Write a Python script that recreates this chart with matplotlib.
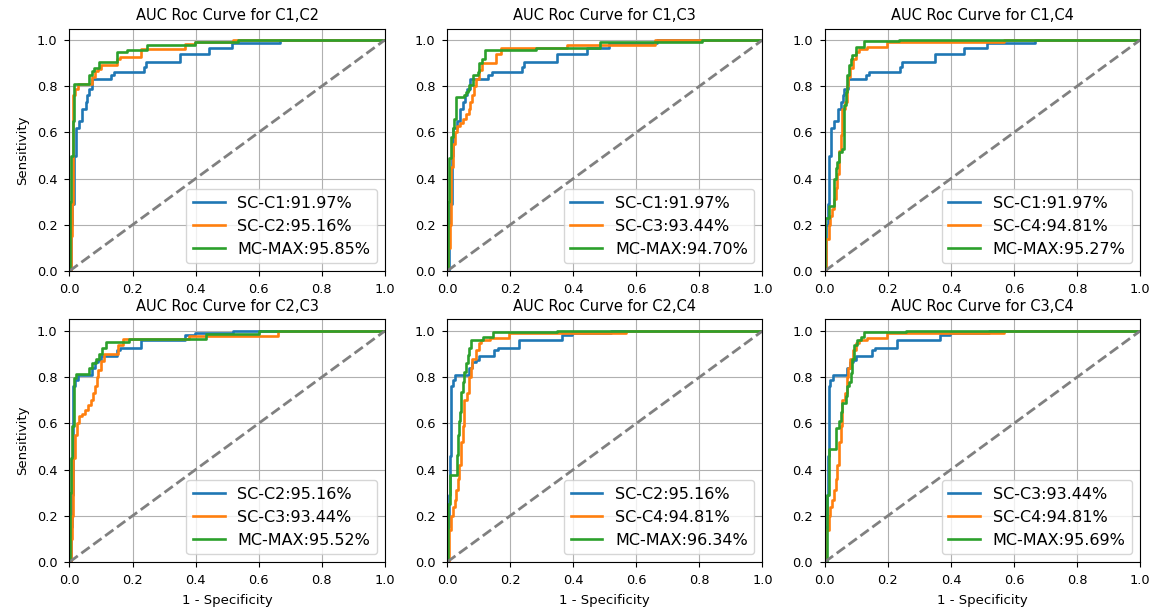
import matplotlib
matplotlib.use("Agg")
import matplotlib.pyplot as plt

# single classifier ROC curves (jump position, new level)
fpr_c1 = [0, 0.005, 0.009, 0.014, 0.02, 0.03, 0.041, 0.051, 0.057, 0.062, 0.072,
          0.131, 0.141, 0.237, 0.244, 0.35, 0.443, 0.515, 0.667, 1.0]
tpr_c1 = [0, 0.2, 0.29, 0.5, 0.62, 0.65, 0.70, 0.73, 0.76, 0.79, 0.83,
          0.848, 0.862, 0.885, 0.906, 0.939, 0.964, 0.988, 1.0, 1.0]

fpr_c2 = [0, 0.004, 0.007, 0.01, 0.012, 0.017, 0.026, 0.07, 0.08, 0.09, 0.1,
          0.15, 0.16, 0.228, 0.365, 0.397, 0.52, 1.0]
tpr_c2 = [0, 0.15, 0.29, 0.46, 0.76, 0.79, 0.81, 0.84, 0.866, 0.875, 0.89,
          0.918, 0.925, 0.96, 0.983, 0.99, 1.0, 1.0]

fpr_c3 = [0, 0.004, 0.008, 0.012, 0.017, 0.024, 0.03, 0.04, 0.05, 0.06, 0.068,
          0.074, 0.08, 0.086, 0.092, 0.1, 0.11, 0.155, 0.17, 0.38, 0.66, 1.0]
tpr_c3 = [0, 0.1, 0.2, 0.45, 0.55, 0.6, 0.63, 0.64, 0.66, 0.68, 0.70,
          0.73, 0.76, 0.80, 0.83, 0.87, 0.90, 0.94, 0.966, 0.978, 1.0, 1.0]

fpr_c4 = [0, 0.005, 0.012, 0.018, 0.024, 0.029, 0.034, 0.039, 0.045, 0.05, 0.055,
          0.063, 0.07, 0.075, 0.08, 0.09, 0.1, 0.108, 0.135, 0.197, 0.567, 1.0]
tpr_c4 = [0, 0.14, 0.2, 0.24, 0.27, 0.31, 0.36, 0.42, 0.52, 0.59, 0.7,
          0.73, 0.8, 0.84, 0.88, 0.92, 0.95, 0.96, 0.97, 0.99, 1.0, 1.0]

# MC-MAX curves per pair
fpr_mc12 = [0, 0.002, 0.006, 0.011, 0.014, 0.062, 0.072, 0.078, 0.094, 0.152,
            0.184, 0.247, 0.397, 0.533, 1.0]
tpr_mc12 = [0, 0.3, 0.5, 0.65, 0.81, 0.847, 0.865, 0.88, 0.905, 0.95,
            0.958, 0.977, 0.993, 1.0, 1.0]

fpr_mc13 = [0, 0.003, 0.007, 0.012, 0.017, 0.023, 0.028, 0.054, 0.06, 0.065,
            0.07, 0.081, 0.097, 0.102, 0.112, 0.121, 0.282, 0.486, 0.81, 1.0]
tpr_mc13 = [0, 0.3, 0.49, 0.58, 0.62, 0.66, 0.755, 0.762, 0.776, 0.785,
            0.805, 0.85, 0.863, 0.9, 0.92, 0.956, 0.966, 0.99, 1.0, 1.0]

fpr_mc14 = [0, 0.002, 0.013, 0.029, 0.034, 0.039, 0.045, 0.055, 0.061, 0.066,
            0.071, 0.077, 0.082, 0.087, 0.098, 0.124, 0.235, 1.0]
tpr_mc14 = [0, 0.23, 0.28, 0.4, 0.445, 0.474, 0.517, 0.53, 0.72, 0.776,
            0.848, 0.892, 0.92, 0.935, 0.97, 0.995, 1.0, 1.0]

fpr_mc23 = [0, 0.001, 0.004, 0.009, 0.014, 0.02, 0.062, 0.072, 0.083, 0.094,
            0.104, 0.115, 0.189, 0.432, 0.6, 1.0]
tpr_mc23 = [0, 0.3, 0.45, 0.59, 0.795, 0.812, 0.838, 0.86, 0.88, 0.9,
            0.925, 0.951, 0.965, 0.988, 1.0, 1.0]

fpr_mc24 = [0, 0.004, 0.008, 0.03, 0.034, 0.037, 0.041, 0.044, 0.049, 0.054,
            0.06, 0.065, 0.07, 0.075, 0.113, 0.144, 0.35, 1.0]
tpr_mc24 = [0, 0.25, 0.376, 0.462, 0.55, 0.61, 0.65, 0.737, 0.78, 0.824,
            0.86, 0.896, 0.925, 0.96, 0.975, 0.996, 1.0, 1.0]

fpr_mc34 = [0, 0.008, 0.013, 0.034, 0.045, 0.05, 0.055, 0.066, 0.071, 0.077,
            0.082, 0.087, 0.092, 0.103, 0.114, 0.124, 0.257, 1.0]
tpr_mc34 = [0, 0.29, 0.49, 0.58, 0.61, 0.65, 0.69, 0.72, 0.76, 0.78,
            0.817, 0.88, 0.94, 0.96, 0.975, 0.994, 1.0, 1.0]

titles = ["C1,C2", "C1,C3", "C1,C4", "C2,C3", "C2,C4", "C3,C4"]
labels = [
    ["SC-C1:91.97%", "SC-C2:95.16%", "MC-MAX:95.85%"],
    ["SC-C1:91.97%", "SC-C3:93.44%", "MC-MAX:94.70%"],
    ["SC-C1:91.97%", "SC-C4:94.81%", "MC-MAX:95.27%"],
    ["SC-C2:95.16%", "SC-C3:93.44%", "MC-MAX:95.52%"],
    ["SC-C2:95.16%", "SC-C4:94.81%", "MC-MAX:96.34%"],
    ["SC-C3:93.44%", "SC-C4:94.81%", "MC-MAX:95.69%"],
]
# in the last panel the first curve drawn is the C2 curve (as in the original)
curves = [
    [(fpr_c1, tpr_c1), (fpr_c2, tpr_c2), (fpr_mc12, tpr_mc12)],
    [(fpr_c1, tpr_c1), (fpr_c3, tpr_c3), (fpr_mc13, tpr_mc13)],
    [(fpr_c1, tpr_c1), (fpr_c4, tpr_c4), (fpr_mc14, tpr_mc14)],
    [(fpr_c2, tpr_c2), (fpr_c3, tpr_c3), (fpr_mc23, tpr_mc23)],
    [(fpr_c2, tpr_c2), (fpr_c4, tpr_c4), (fpr_mc24, tpr_mc24)],
    [(fpr_c2, tpr_c2), (fpr_c4, tpr_c4), (fpr_mc34, tpr_mc34)],
]
colors = ["tab:blue", "tab:orange", "tab:green"]

fig, axes = plt.subplots(2, 3, figsize=(11.58, 6.16), dpi=100)
fig.subplots_adjust(left=0.0600, right=0.9845, bottom=0.0877, top=0.9537,
                    wspace=0.198, hspace=0.2)

for i, ax in enumerate(axes.flat):
    for (fx, ty), lab, col in zip(curves[i], labels[i], colors):
        ax.plot(fx, ty, drawstyle="steps-post", color=col, lw=1.9, label=lab)
    ax.plot([0, 1], [0, 1], "--", color="gray", lw=2)
    ax.set_xlim(0, 1)
    ax.set_ylim(0, 1.05)
    ax.grid(True)
    ax.set_title("AUC Roc Curve for " + titles[i], fontsize=10.5)
    ax.tick_params(labelsize=9.3, pad=5)
    ax.legend(loc="lower right", fontsize=11.5)
    if i % 3 == 0:
        ax.set_ylabel("Sensitivity", fontsize=9.5, labelpad=6)
    if i >= 3:
        ax.set_xlabel("1 - Specificity", fontsize=9.5, labelpad=5)

plt.savefig("out.png")
plt.close()
